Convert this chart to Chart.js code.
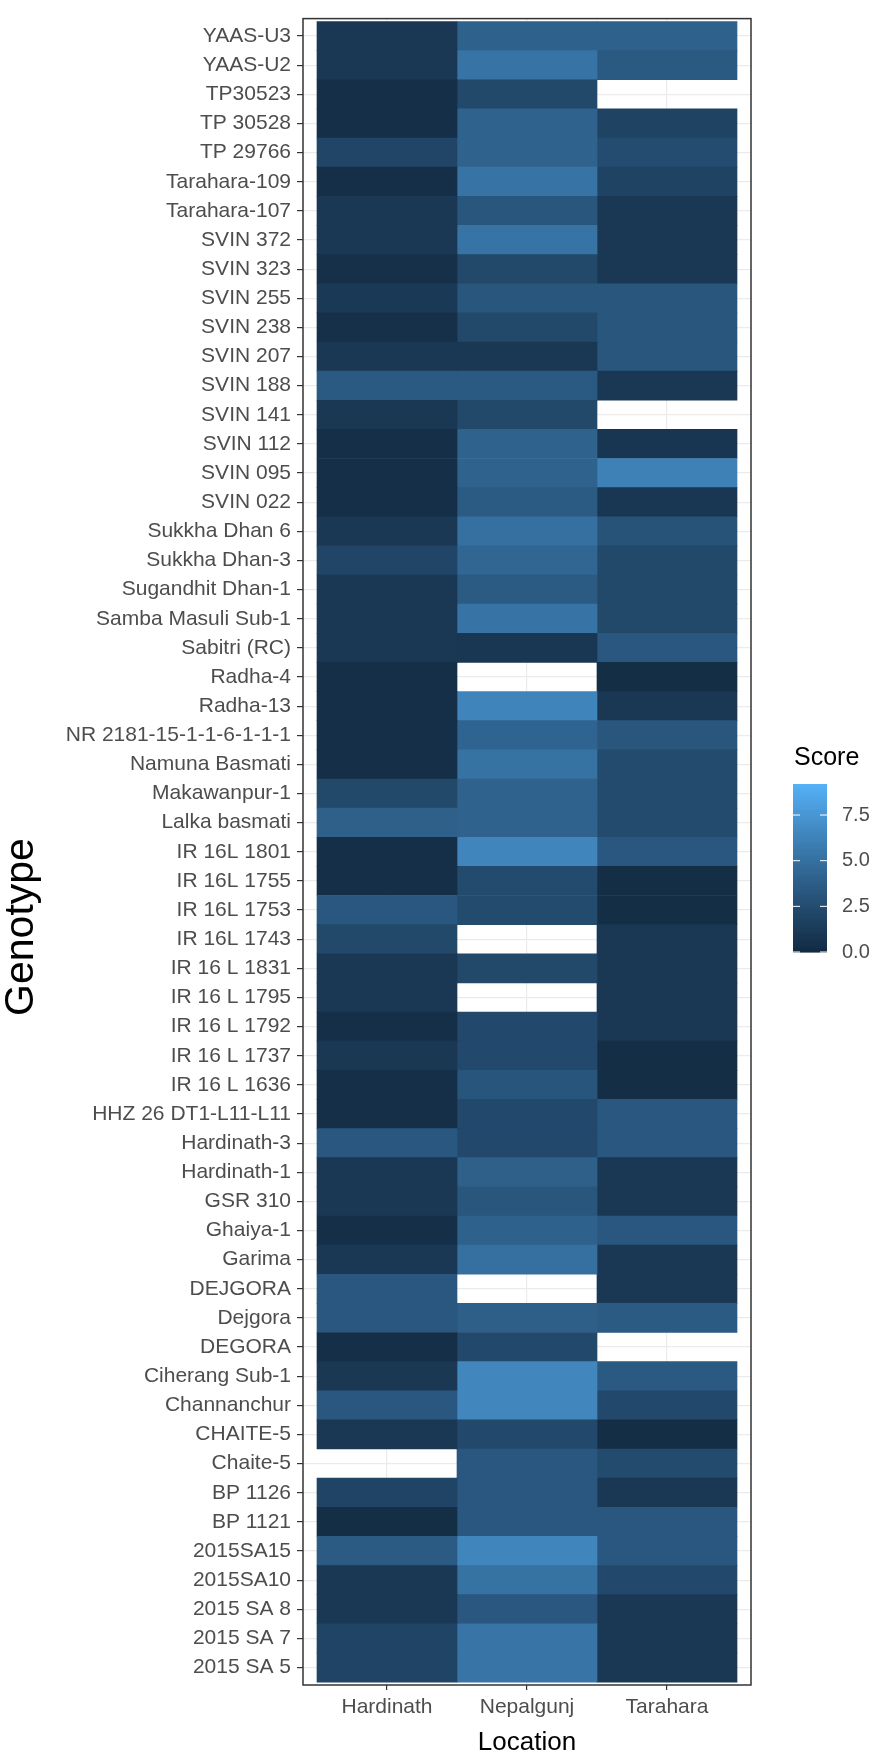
<!DOCTYPE html>
<html>
<head>
<meta charset="utf-8">
<script src="https://cdn.jsdelivr.net/npm/chart.js@4.4.1/dist/chart.umd.min.js"></script>
<style>
  html, body { margin: 0; padding: 0; background: #ffffff; }
  #wrap { width: 881px; height: 1759px; }
</style>
</head>
<body>
<div id="wrap"><canvas id="heatChart" width="881" height="1759"></canvas></div>
<script>
// Genotypes, top to bottom as in the figure
const genotypes = [
    'YAAS-U3', 'YAAS-U2', 'TP30523', 'TP 30528', 'TP 29766', 'Tarahara-109', 'Tarahara-107',
    'SVIN 372', 'SVIN 323', 'SVIN 255', 'SVIN 238', 'SVIN 207', 'SVIN 188', 'SVIN 141',
    'SVIN 112', 'SVIN 095', 'SVIN 022', 'Sukkha Dhan 6', 'Sukkha Dhan-3', 'Sugandhit Dhan-1',
    'Samba Masuli Sub-1', 'Sabitri (RC)', 'Radha-4', 'Radha-13', 'NR 2181-15-1-1-6-1-1-1',
    'Namuna Basmati', 'Makawanpur-1', 'Lalka basmati', 'IR 16L 1801', 'IR 16L 1755',
    'IR 16L 1753', 'IR 16L 1743', 'IR 16 L 1831', 'IR 16 L 1795', 'IR 16 L 1792',
    'IR 16 L 1737', 'IR 16 L 1636', 'HHZ 26 DT1-L11-L11', 'Hardinath-3', 'Hardinath-1',
    'GSR 310', 'Ghaiya-1', 'Garima', 'DEJGORA', 'Dejgora', 'DEGORA', 'Ciherang Sub-1',
    'Channanchur', 'CHAITE-5', 'Chaite-5', 'BP 1126', 'BP 1121', '2015SA15', '2015SA10',
    '2015 SA 8', '2015 SA 7', '2015 SA 5'
];

const locations = ['Hardinath', 'Nepalgunj', 'Tarahara'];

// Scores (null = missing cell)
const hardinath = [
    1.0, 1.0, 0.3, 0.3, 2.0, 0.3, 1.0, 1.0, 0.4, 1.1, 0.4, 1.0, 3.4, 1.0,
    0.3, 0.3, 0.3, 1.0, 2.0, 1.0, 1.0, 1.0, 0.3, 0.3, 0.3, 0.3, 2.2, 3.9,
    0.3, 0.3, 3.3, 2.2, 1.0, 1.0, 0.3, 1.0, 0.3, 0.3, 3.3, 1.0, 1.0, 0.3,
    1.0, 3.3, 3.3, 0.3, 1.0, 3.3, 1.0, null, 1.9, 0.2, 3.5, 1.0, 1.0, 1.9, 1.9
];
const nepalgunj = [
    4.0, 5.2, 2.2, 4.1, 4.1, 5.2, 3.2, 5.2, 2.2, 3.2, 2.2, 1.0, 3.4, 2.2,
    4.1, 4.1, 3.5, 5.0, 4.3, 3.5, 5.2, 0.9, null, 6.3, 4.2, 5.1, 4.1, 4.1,
    6.4, 2.4, 2.4, null, 2.2, null, 2.3, 2.3, 3.1, 2.3, 2.3, 3.9, 3.2, 4.0,
    5.0, null, 3.8, 2.3, 6.5, 6.5, 2.3, 3.3, 3.3, 3.3, 6.4, 5.1, 3.3, 5.3, 5.3
];
const tarahara = [
    4.0, 3.4, null, 1.8, 2.5, 1.8, 1.0, 1.0, 1.0, 3.2, 3.2, 3.2, 1.0, null,
    0.8, 6.1, 0.9, 3.0, 2.2, 2.2, 2.2, 3.3, 0.2, 1.0, 3.2, 2.4, 2.4, 2.4,
    3.3, 0.2, 0.2, 1.0, 1.0, 1.0, 1.0, 0.2, 0.2, 3.3, 3.3, 1.0, 1.0, 3.3,
    1.0, 1.0, 3.5, null, 3.4, 2.3, 0.2, 2.4, 1.0, 3.3, 3.3, 2.3, 1.0, 1.0, 1.0
];

// Colour bar range and its labels
const scoreRange = [0, 9.2];
const scoreTicks = [0, 2.5, 5.0, 7.5];

// ggplot2 default gradient, interpolated in Lab space
const lowColor = '#132B43';
const highColor = '#56B1F7';

function hexToRgb(h) {
    return [1, 3, 5].map(i => parseInt(h.substr(i, 2), 16));
}
function toLin(c) {
    c /= 255;
    return c <= 0.04045 ? c / 12.92 : Math.pow((c + 0.055) / 1.055, 2.4);
}
function fromLin(c) {
    const v = c <= 0.0031308 ? 12.92 * c : 1.055 * Math.pow(c, 1 / 2.4) - 0.055;
    return Math.round(Math.max(0, Math.min(1, v)) * 255);
}
function rgbToLab(rgb) {
    const [r, g, b] = rgb.map(toLin);
    const x = (0.4124 * r + 0.3576 * g + 0.1805 * b) / 0.95047;
    const y = (0.2126 * r + 0.7152 * g + 0.0722 * b);
    const z = (0.0193 * r + 0.1192 * g + 0.9505 * b) / 1.08883;
    const f = t => t > 0.008856 ? Math.cbrt(t) : 7.787 * t + 16 / 116;
    const fx = f(x), fy = f(y), fz = f(z);
    return [116 * fy - 16, 500 * (fx - fy), 200 * (fy - fz)];
}
function labToRgb(lab) {
    const fy = (lab[0] + 16) / 116;
    const fx = fy + lab[1] / 500;
    const fz = fy - lab[2] / 200;
    const inv = t => t * t * t > 0.008856 ? t * t * t : (t - 16 / 116) / 7.787;
    const x = inv(fx) * 0.95047, y = inv(fy), z = inv(fz) * 1.08883;
    const r = 3.2406 * x - 1.5372 * y - 0.4986 * z;
    const g = -0.9689 * x + 1.8758 * y + 0.0415 * z;
    const b = 0.0557 * x - 0.2040 * y + 1.0570 * z;
    return [fromLin(r), fromLin(g), fromLin(b)];
}
const lowLab = rgbToLab(hexToRgb(lowColor));
const highLab = rgbToLab(hexToRgb(highColor));

function scoreColor(v) {
    let t = (v - scoreRange[0]) / (scoreRange[1] - scoreRange[0]);
    t = Math.max(0, Math.min(1, t));
    const lab = lowLab.map((l, i) => l + (highLab[i] - l) * t);
    const rgb = labToRgb(lab);
    return `rgb(${rgb[0]},${rgb[1]},${rgb[2]})`;
}

const n = genotypes.length;

function cells(values, col) {
    // each cell is a floating bar one unit wide, centred on its location
    return values
        .map((v, i) => ({ y: n - i, x: [col + 0.5, col + 1.5], v: v }))
        .filter(d => d.v !== null);
}

const datasets = [hardinath, nepalgunj, tarahara].map((vals, j) => ({
    label: locations[j],
    data: cells(vals, j),
    backgroundColor: ctx => ctx.raw ? scoreColor(ctx.raw.v) : 'rgba(0,0,0,0)',
    borderWidth: 0,
    grouped: false,
    barPercentage: 1,
    categoryPercentage: 1
}));

// panel frame, y title and colour bar legend
const decorPlugin = {
    id: 'decor',
    afterDraw(chart) {
        const ctx = chart.ctx;
        const a = chart.chartArea;
        ctx.save();

        ctx.strokeStyle = '#333333';
        ctx.lineWidth = 1.5;
        ctx.strokeRect(a.left, a.top, a.right - a.left, a.bottom - a.top);

        ctx.fillStyle = '#000000';
        ctx.font = "41px 'Liberation Sans', Arial, sans-serif";
        ctx.textAlign = 'center';
        ctx.textBaseline = 'middle';
        ctx.translate(22, 927);
        ctx.rotate(-Math.PI / 2);
        ctx.fillText('Genotype', 0, 0);
        ctx.setTransform(1, 0, 0, 1, 0, 0);

        // legend
        const barX = 793, barW = 34, barTop = 784, barBottom = 952;
        ctx.font = "25px 'Liberation Sans', Arial, sans-serif";
        ctx.textAlign = 'left';
        ctx.fillText('Score', 794, 758);

        const steps = 168;
        for (let s = 0; s < steps; s++) {
            const v = scoreRange[0] + (scoreRange[1] - scoreRange[0]) * (s + 0.5) / steps;
            ctx.fillStyle = scoreColor(v);
            const y = barBottom - (s + 1) * (barBottom - barTop) / steps;
            ctx.fillRect(barX, y, barW, (barBottom - barTop) / steps + 0.6);
        }

        ctx.font = "20px 'Liberation Sans', Arial, sans-serif";
        ctx.textBaseline = 'middle';
        scoreTicks.forEach(t => {
            const y = barBottom - (t - scoreRange[0]) / (scoreRange[1] - scoreRange[0]) * (barBottom - barTop);
            ctx.strokeStyle = '#ffffff';
            ctx.lineWidth = 1;
            ctx.beginPath();
            ctx.moveTo(barX, y); ctx.lineTo(barX + 7, y);
            ctx.moveTo(barX + barW - 7, y); ctx.lineTo(barX + barW, y);
            ctx.stroke();
            ctx.fillStyle = '#4D4D4D';
            ctx.fillText(t.toFixed(1), 842, y);
        });
        ctx.restore();
    }
};

Chart.defaults.font.family = "'Liberation Sans', Arial, sans-serif";

new Chart(document.getElementById('heatChart').getContext('2d'), {
    type: 'bar',
    data: { datasets: datasets },
    options: {
        indexAxis: 'y',
        responsive: false,
        animation: false,
        layout: { padding: { top: 10, right: 130, left: 0, bottom: 0 } },
        plugins: {
            legend: { display: false },
            tooltip: { enabled: false }
        },
        scales: {
            x: {
                type: 'linear',
                min: 0.4,
                max: 3.6,
                offset: false,
                afterBuildTicks: scale => { scale.ticks = locations.map((l, i) => ({ value: i + 1 })); },
                afterFit: scale => { scale.height = 74; },
                ticks: {
                    callback: v => locations[v - 1],
                    color: '#4D4D4D',
                    font: { size: 21 },
                    padding: 5,
                    autoSkip: false,
                    maxRotation: 0
                },
                grid: { offset: false, color: '#EBEBEB', lineWidth: 1.2, tickColor: '#333333', tickLength: 5 },
                border: { display: false },
                title: {
                    display: true,
                    text: 'Location',
                    color: '#000000',
                    font: { size: 26 },
                    padding: { top: 0, bottom: 1 }
                }
            },
            y: {
                type: 'linear',
                min: 0.4,
                max: n + 0.6,
                offset: false,
                afterBuildTicks: scale => { scale.ticks = genotypes.map((g, i) => ({ value: n - i })); },
                afterFit: scale => { scale.width = 303; },
                ticks: {
                    callback: v => genotypes[n - v],
                    color: '#4D4D4D',
                    font: { size: 21 },
                    padding: 6,
                    autoSkip: false
                },
                grid: { offset: false, color: '#EBEBEB', lineWidth: 1.2, tickColor: '#333333', tickLength: 6 },
                border: { display: false }
            }
        }
    },
    plugins: [decorPlugin]
});
</script>
</body>
</html>
